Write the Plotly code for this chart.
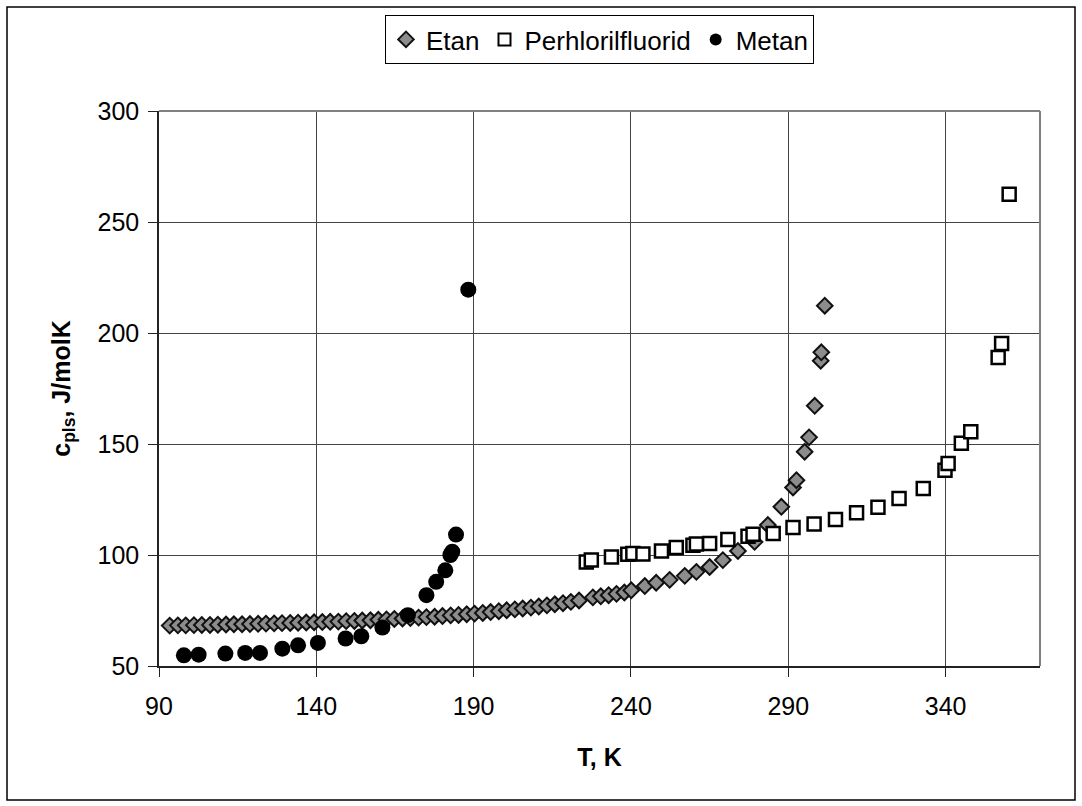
import plotly.graph_objects as go

# Etan (ethane)
etan_T = [93.4, 96.0, 98.5, 101.1, 103.6, 106.2, 108.7, 111.3, 113.8, 116.4, 118.9, 121.5,
          124.0, 126.6, 129.1, 131.7, 134.2, 136.8, 139.3, 141.9, 144.4, 147.0, 149.5, 152.1,
          154.6, 157.2, 159.7, 162.3, 164.8, 167.4, 169.9, 172.5, 175.0, 177.6, 180.1, 182.7,
          185.2, 187.8, 190.3, 192.9, 195.4, 198.0, 200.5, 203.1, 205.6, 208.2, 210.7, 213.3,
          215.8, 218.4, 220.9, 223.5, 227.9, 230.4, 232.9, 235.4, 237.9, 240.1, 244.4, 248.0,
          252.3, 257.1, 260.8, 265.0, 269.2, 274.0, 279.3, 283.5, 287.8, 291.5, 292.6, 295.2,
          296.6, 298.4, 300.3, 300.5, 301.6]
etan_c = [68.2, 68.3, 68.3, 68.4, 68.5, 68.5, 68.6, 68.7, 68.8, 68.8, 68.9, 69.0,
          69.1, 69.2, 69.3, 69.4, 69.5, 69.6, 69.7, 69.8, 69.9, 70.0, 70.2, 70.3,
          70.5, 70.6, 70.8, 71.0, 71.2, 71.4, 71.6, 71.8, 72.0, 72.2, 72.5, 72.8,
          73.0, 73.3, 73.6, 73.9, 74.3, 74.7, 75.1, 75.5, 75.9, 76.3, 76.8, 77.3,
          77.8, 78.3, 78.9, 79.5, 80.9, 81.4, 81.9, 82.5, 83.1, 84.1, 86.0, 87.5,
          88.8, 90.6, 92.4, 94.6, 97.7, 101.8, 105.9, 113.5, 121.7, 130.4, 133.7, 146.5,
          153.0, 167.2, 187.5, 191.3, 212.3]

# Perhlorilfluorid
perh_T = [225.8, 227.4, 233.8, 239.0, 240.6, 243.8, 249.7, 254.4, 259.7, 260.8, 265.0,
          270.8, 277.2, 278.8, 285.2, 291.5, 298.2, 305.0, 311.7, 318.5, 325.2, 332.9,
          339.8, 340.8, 345.0, 348.0, 356.7, 357.8, 360.2]
perh_c = [96.9, 97.7, 99.1, 100.3, 100.7, 100.4, 101.8, 103.4, 104.4, 104.9, 105.2,
          107.0, 108.5, 109.4, 109.7, 112.4, 114.0, 116.0, 119.0, 121.5, 125.5, 130.0,
          138.2, 141.2, 150.3, 155.5, 189.0, 195.3, 262.5]

# Metan (methane)
metan_T = [97.9, 102.6, 111.1, 117.4, 122.1, 129.2, 134.2, 140.5, 149.3, 154.3, 161.0,
           169.1, 175.0, 178.1, 181.0, 182.6, 183.2, 184.4, 188.3]
metan_c = [54.8, 55.1, 55.6, 55.9, 55.9, 57.8, 59.3, 60.4, 62.4, 63.4, 67.3,
           72.9, 81.9, 87.9, 93.1, 100.0, 101.5, 109.2, 219.5]

x_ticks = [90, 140, 190, 240, 290, 340]
y_ticks = [50, 100, 150, 200, 250, 300]

FONT = "Liberation Sans, Arial, sans-serif"

fig = go.Figure()
fig.add_trace(go.Scatter(x=etan_T, y=etan_c, mode="markers", name="Etan",
                         marker=dict(symbol="diamond", size=12, color="#8c8c8c",
                                     line=dict(color="#111111", width=2))))
fig.add_trace(go.Scatter(x=perh_T, y=perh_c, mode="markers", name="Perhlorilfluorid",
                         marker=dict(symbol="square", size=13, color="white",
                                     line=dict(color="#000000", width=2.5))))
fig.add_trace(go.Scatter(x=metan_T, y=metan_c, mode="markers", name="Metan",
                         marker=dict(symbol="circle", size=16, color="#000000",
                                     line=dict(color="#000000", width=0))))

L, R, T, B = 159, 42, 111, 140
W, H = 1082, 806
pw, ph = W - L - R, H - T - B

def px(x):
    return (x - L) / pw

def py(y):
    return (H - B - y) / ph

fig.update_layout(
    width=W, height=H,
    margin=dict(l=L, r=R, t=T, b=B, pad=0),
    paper_bgcolor="white", plot_bgcolor="white",
    font=dict(family=FONT, size=25, color="black"),
    showlegend=True,
    legend=dict(orientation="h", x=0.5, xanchor="center", y=py(15), yanchor="top",
                bordercolor="black", borderwidth=1, bgcolor="white",
                font=dict(size=26), itemsizing="constant", itemwidth=30,
                tracegroupgap=0, traceorder="normal"),
    xaxis=dict(range=[90, 370], tickvals=x_ticks, ticktext=[str(v) for v in x_ticks],
               showgrid=True, gridcolor="#444444", gridwidth=1,
               showline=True, linecolor="#222222", linewidth=1.5,
               ticks="outside", ticklen=9, tickcolor="#222222", zeroline=False,
               tickfont=dict(size=25), ticklabelstandoff=8,
               title=dict(text="<b>T, K</b>", font=dict(size=25), standoff=30)),
    yaxis=dict(range=[50, 300], tickvals=y_ticks, ticktext=[str(v) for v in y_ticks],
               showgrid=True, gridcolor="#444444", gridwidth=1,
               showline=True, linecolor="#222222", linewidth=1.5,
               ticks="outside", ticklen=9, tickcolor="#222222", zeroline=False,
               tickfont=dict(size=25), ticklabelstandoff=4,
               title=dict(text="<b>c<sub>pls</sub>, J/molK</b>", font=dict(size=25), standoff=20)),
    shapes=[
        dict(type="line", xref="paper", yref="paper", x0=0, x1=1, y0=1, y1=1,
             line=dict(color="#808080", width=2)),
        dict(type="line", xref="paper", yref="paper", x0=1, x1=1, y0=0, y1=1,
             line=dict(color="#808080", width=2)),
        dict(type="rect", xref="paper", yref="paper", x0=px(7), x1=px(1075),
             y0=py(800), y1=py(7), line=dict(color="black", width=1.5)),
    ],
)

fig.write_html("out.html")
